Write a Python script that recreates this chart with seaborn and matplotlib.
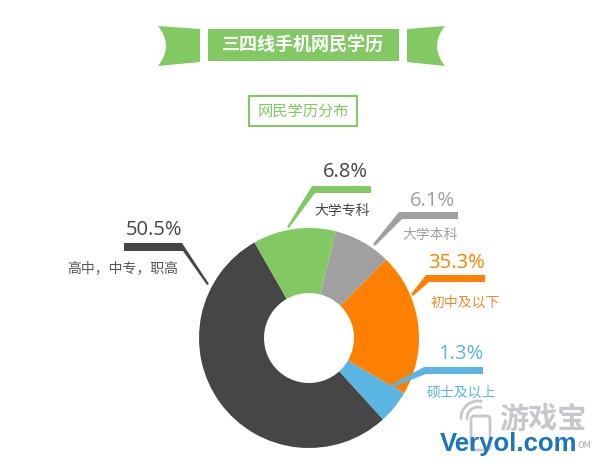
import matplotlib
matplotlib.use("Agg")
import matplotlib.pyplot as plt
import seaborn as sns
from matplotlib.patches import Polygon, Rectangle, FancyBboxPatch, Arc, PathPatch
from matplotlib.path import Path

# Data -------------------------------------------------------------
categories = ["高中\uff0c中专\uff0c职高", "硕士及以上", "初中及以下", "大学本科", "大学专科"]
printed_values = ["50.5%", "1.3%", "35.3%", "6.1%", "6.8%"]
# wedge shares as drawn in the picture (they differ from the printed numbers)
wedge_shares = [53.5, 4.9, 21.0, 8.4, 12.2]
colors = ["#464646", "#5BB5E2", "#FF8000", "#A0A0A0", "#82C963"]
value_colors = ["#464646", "#5BB5E2", "#FF8000", "#A0A0A0", "#464646"]
label_colors = ["#555555", "#5BB5E2", "#F08A30", "#A0A0A0", "#444444"]
title = "三四线手机网民学历"
subtitle = "网民学历分布"

sns.set_theme(style="white")
plt.rcParams["font.family"] = ["Noto Sans CJK SC", "DejaVu Sans"]
sns.set_palette(colors)

fig = plt.figure(figsize=(6, 4.67), dpi=100, facecolor="white")
ax = fig.add_axes([0, 0, 1, 1])

# Donut (the y axis runs downward, so the pie turns the other way in data terms)
ax.pie(wedge_shares, colors=sns.color_palette(), startangle=-119.7, counterclock=False,
       center=(309, 338), radius=110, wedgeprops=dict(width=65, linewidth=0), frame=False)
ax.set_xlim(0, 600)
ax.set_ylim(467, 0)
ax.set_aspect("equal")
ax.axis("off")

GREEN = "#82C963"
# Ribbon
ax.add_patch(Rectangle((208, 29), 191, 32, fc=GREEN, ec="none"))
def flag(x_out, x_in, x_notch):
    verts = [(x_out, 26), (x_in, 29), (x_in, 62), (x_out, 66), (x_notch, 46), (x_out, 26), (x_out, 26)]
    codes = [Path.MOVETO, Path.LINETO, Path.LINETO, Path.LINETO, Path.CURVE3, Path.CURVE3, Path.CLOSEPOLY]
    return PathPatch(Path(verts, codes), fc=GREEN, ec="none")
ax.add_patch(flag(158, 200, 174))
ax.add_patch(flag(445, 407, 429))
ax.text(303, 45, title, color="white", fontsize=13, fontweight="bold", ha="center", va="center")

# Subtitle box
ax.add_patch(Rectangle((249, 96), 108, 30, fc="white", ec=GREEN, lw=1.5))
ax.text(303, 111, subtitle, color=GREEN, fontsize=11, ha="center", va="center")

# Leader shapes: one for each category, in the order of the data
leaders = [
    [(124, 243), (182, 243), (209, 284), (207, 285), (183, 251), (124, 251)],
    [(424, 367), (483, 367), (483, 374), (426, 374), (393, 387), (391, 385)],
    [(426, 275), (485, 275), (485, 282), (429, 282), (413, 296), (411, 294)],
    [(399, 212), (458, 212), (458, 219), (402, 219), (375, 246), (373, 244)],
    [(312, 186), (371, 186), (371, 193), (315, 193), (289, 228), (287, 227)],
]
value_pos = [(154, 230), (461, 354), (456, 263), (432, 201), (345, 172)]
label_pos = [(123, 268), (461, 393), (465, 303), (430, 235), (342, 211)]
for i in range(len(categories)):
    ax.add_patch(Polygon(leaders[i], closed=True, fc=colors[i], ec="none", zorder=3))
    ax.text(*value_pos[i], printed_values[i], color=value_colors[i], fontsize=14.5,
            family=["Open Sans", "DejaVu Sans"], ha="center", va="center")
    ax.text(*label_pos[i], categories[i], color=label_colors[i], fontsize=10, ha="center", va="center")

# Watermark
wm = "#C4C8CC"
ax.add_patch(FancyBboxPatch((472, 417), 17, 32, boxstyle="round,pad=1,rounding_size=3",
                            fc="white", ec=wm, lw=2, zorder=4))
ax.add_patch(Arc((478, 418), 22, 22, theta1=170, theta2=290, ec=wm, lw=2, zorder=4))
ax.add_patch(Arc((478, 418), 34, 34, theta1=175, theta2=285, ec=wm, lw=2, zorder=4))
ax.text(543, 419, "游戏宝", color=wm, fontsize=21, fontweight="bold", ha="center", va="center", zorder=4)
ax.text(584, 446, "OM", color="#AAAAAA", fontsize=6.5, ha="center", va="center", zorder=4)
ax.text(509, 444, "Veryol.com", color="#1B75BC", fontsize=18.5, fontweight="bold",
        family=["Liberation Sans"], ha="center", va="center", zorder=5)

fig.savefig("out.png", dpi=100, facecolor="white")
